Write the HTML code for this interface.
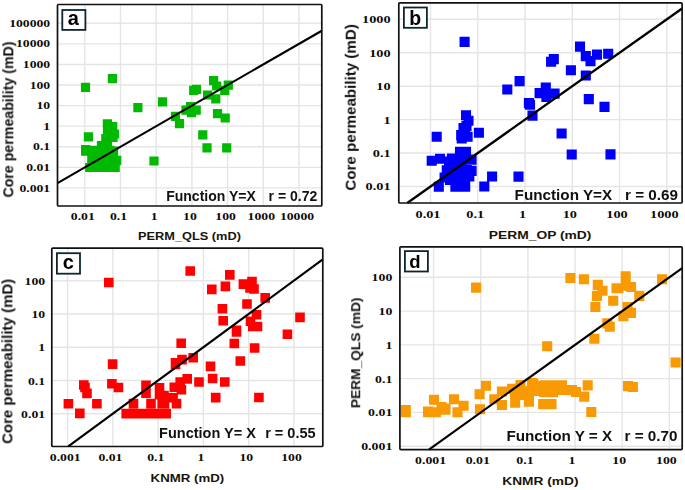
<!DOCTYPE html>
<html><head><meta charset="utf-8"><style>html,body{margin:0;padding:0;background:#fff;overflow:hidden}svg{display:block}</style></head>
<body><svg width="685" height="490" viewBox="0 0 685 490"><path d="M57.5 187.90H321.8M84.80 4.5V206.0M57.5 167.33H321.8M120.50 4.5V206.0M57.5 146.75H321.8M156.20 4.5V206.0M57.5 126.17H321.8M191.90 4.5V206.0M57.5 105.60H321.8M227.60 4.5V206.0M57.5 85.02H321.8M263.30 4.5V206.0M57.5 64.45H321.8M299.00 4.5V206.0M57.5 43.88H321.8M57.5 23.30H321.8" stroke="#e5e5e5" stroke-width="1.4" fill="none"/><path fill="#00b900" d="M80.90 82.70h9.2v9.2h-9.2zM107.80 74.10h9.2v9.2h-9.2zM133.30 103.10h9.2v9.2h-9.2zM157.90 97.30h9.2v9.2h-9.2zM83.80 132.30h9.2v9.2h-9.2zM198.20 130.20h9.2v9.2h-9.2zM202.40 143.20h9.2v9.2h-9.2zM222.10 143.20h9.2v9.2h-9.2zM170.90 111.80h9.2v9.2h-9.2zM174.90 119.00h9.2v9.2h-9.2zM181.40 105.50h9.2v9.2h-9.2zM185.90 102.10h9.2v9.2h-9.2zM186.90 108.00h9.2v9.2h-9.2zM191.60 105.50h9.2v9.2h-9.2zM203.00 90.40h9.2v9.2h-9.2zM211.20 94.30h9.2v9.2h-9.2zM212.90 109.10h9.2v9.2h-9.2zM220.60 113.40h9.2v9.2h-9.2zM209.00 76.10h9.2v9.2h-9.2zM212.10 81.40h9.2v9.2h-9.2zM223.70 80.60h9.2v9.2h-9.2zM220.20 85.80h9.2v9.2h-9.2zM189.10 85.70h9.2v9.2h-9.2zM191.80 84.80h9.2v9.2h-9.2zM149.40 156.40h9.2v9.2h-9.2zM102.80 119.20h9.2v9.2h-9.2zM108.10 122.10h9.2v9.2h-9.2zM102.90 128.40h9.2v9.2h-9.2zM109.90 129.40h9.2v9.2h-9.2zM103.20 124.40h9.2v9.2h-9.2zM101.20 134.10h9.2v9.2h-9.2zM108.40 132.70h9.2v9.2h-9.2zM96.90 141.10h9.2v9.2h-9.2zM102.80 141.10h9.2v9.2h-9.2zM109.00 146.50h9.2v9.2h-9.2zM81.00 145.00h9.2v9.2h-9.2zM81.00 146.60h9.2v9.2h-9.2zM87.40 145.80h9.2v9.2h-9.2zM93.40 145.80h9.2v9.2h-9.2zM99.40 145.80h9.2v9.2h-9.2zM105.40 145.80h9.2v9.2h-9.2zM87.20 154.40h9.2v9.2h-9.2zM95.40 154.40h9.2v9.2h-9.2zM103.40 154.40h9.2v9.2h-9.2zM112.10 155.80h9.2v9.2h-9.2zM85.10 162.90h9.2v9.2h-9.2zM93.40 162.90h9.2v9.2h-9.2zM101.40 162.90h9.2v9.2h-9.2zM110.60 162.90h9.2v9.2h-9.2z"/><line x1="57.50" y1="183.06" x2="321.80" y2="30.73" stroke="#000" stroke-width="2.1"/><rect x="57.5" y="4.5" width="264.30" height="201.50" rx="1" fill="none" stroke="#111" stroke-width="1.7"/><rect x="62.3" y="10.0" width="23.10" height="19.90" fill="#fff" stroke="#0e2633" stroke-width="1.8"/><text x="73.2" y="24.8" text-anchor="middle" font-family="'Liberation Sans', sans-serif" font-weight="bold" font-size="20" fill="#000" style="filter:blur(0)">a</text><text transform="translate(50.20,26.90) scale(1.33,1)" text-anchor="end" font-family="'Liberation Serif', serif" font-weight="bold" font-size="10.3" fill="#0c0905">100000</text><text transform="translate(50.20,47.48) scale(1.33,1)" text-anchor="end" font-family="'Liberation Serif', serif" font-weight="bold" font-size="10.3" fill="#0c0905">10000</text><text transform="translate(50.20,68.05) scale(1.33,1)" text-anchor="end" font-family="'Liberation Serif', serif" font-weight="bold" font-size="10.3" fill="#0c0905">1000</text><text transform="translate(50.20,88.62) scale(1.33,1)" text-anchor="end" font-family="'Liberation Serif', serif" font-weight="bold" font-size="10.3" fill="#0c0905">100</text><text transform="translate(50.20,109.20) scale(1.33,1)" text-anchor="end" font-family="'Liberation Serif', serif" font-weight="bold" font-size="10.3" fill="#0c0905">10</text><text transform="translate(50.20,129.78) scale(1.33,1)" text-anchor="end" font-family="'Liberation Serif', serif" font-weight="bold" font-size="10.3" fill="#0c0905">1</text><text transform="translate(50.20,150.35) scale(1.33,1)" text-anchor="end" font-family="'Liberation Serif', serif" font-weight="bold" font-size="10.3" fill="#0c0905">0.1</text><text transform="translate(50.20,170.93) scale(1.33,1)" text-anchor="end" font-family="'Liberation Serif', serif" font-weight="bold" font-size="10.3" fill="#0c0905">0.01</text><text transform="translate(50.20,191.50) scale(1.33,1)" text-anchor="end" font-family="'Liberation Serif', serif" font-weight="bold" font-size="10.3" fill="#0c0905">0.001</text><text transform="translate(82.80,219.80) scale(1.33,1)" text-anchor="middle" font-family="'Liberation Serif', serif" font-weight="bold" font-size="10.3" fill="#0c0905">0.01</text><text transform="translate(118.50,219.80) scale(1.33,1)" text-anchor="middle" font-family="'Liberation Serif', serif" font-weight="bold" font-size="10.3" fill="#0c0905">0.1</text><text transform="translate(154.20,219.80) scale(1.33,1)" text-anchor="middle" font-family="'Liberation Serif', serif" font-weight="bold" font-size="10.3" fill="#0c0905">1</text><text transform="translate(189.90,219.80) scale(1.33,1)" text-anchor="middle" font-family="'Liberation Serif', serif" font-weight="bold" font-size="10.3" fill="#0c0905">10</text><text transform="translate(225.60,219.80) scale(1.33,1)" text-anchor="middle" font-family="'Liberation Serif', serif" font-weight="bold" font-size="10.3" fill="#0c0905">100</text><text transform="translate(261.30,219.80) scale(1.33,1)" text-anchor="middle" font-family="'Liberation Serif', serif" font-weight="bold" font-size="10.3" fill="#0c0905">1000</text><text transform="translate(297.00,219.80) scale(1.33,1)" text-anchor="middle" font-family="'Liberation Serif', serif" font-weight="bold" font-size="10.3" fill="#0c0905">10000</text><path d="M430.50 2.8V203.0M398.8 186.50H682.1M477.76 2.8V203.0M398.8 153.06H682.1M525.02 2.8V203.0M398.8 119.62H682.1M572.28 2.8V203.0M398.8 86.18H682.1M619.54 2.8V203.0M398.8 52.74H682.1M666.80 2.8V203.0M398.8 19.30H682.1" stroke="#e5e5e5" stroke-width="1.4" fill="none"/><path fill="#0000fa" d="M459.55 36.85h10.1v10.1h-10.1zM502.25 84.45h10.1v10.1h-10.1zM514.55 76.05h10.1v10.1h-10.1zM523.85 98.05h10.1v10.1h-10.1zM524.95 99.75h10.1v10.1h-10.1zM527.45 110.55h10.1v10.1h-10.1zM534.55 88.05h10.1v10.1h-10.1zM540.75 82.45h10.1v10.1h-10.1zM541.35 91.95h10.1v10.1h-10.1zM549.55 88.55h10.1v10.1h-10.1zM583.75 94.05h10.1v10.1h-10.1zM599.45 101.85h10.1v10.1h-10.1zM605.45 149.35h10.1v10.1h-10.1zM566.65 149.45h10.1v10.1h-10.1zM556.55 128.45h10.1v10.1h-10.1zM548.75 54.05h10.1v10.1h-10.1zM546.05 56.75h10.1v10.1h-10.1zM574.95 41.55h10.1v10.1h-10.1zM580.75 51.05h10.1v10.1h-10.1zM585.45 56.05h10.1v10.1h-10.1zM591.95 49.55h10.1v10.1h-10.1zM603.15 48.75h10.1v10.1h-10.1zM565.85 65.15h10.1v10.1h-10.1zM580.75 70.45h10.1v10.1h-10.1zM487.05 171.45h10.1v10.1h-10.1zM513.45 171.55h10.1v10.1h-10.1zM479.25 181.45h10.1v10.1h-10.1zM473.85 127.75h10.1v10.1h-10.1zM431.65 131.65h10.1v10.1h-10.1zM460.95 110.25h10.1v10.1h-10.1zM463.45 115.65h10.1v10.1h-10.1zM460.05 125.95h10.1v10.1h-10.1zM456.15 130.05h10.1v10.1h-10.1zM456.65 133.35h10.1v10.1h-10.1zM462.55 131.75h10.1v10.1h-10.1zM454.95 146.65h10.1v10.1h-10.1zM460.95 146.65h10.1v10.1h-10.1zM426.65 155.65h10.1v10.1h-10.1zM434.95 153.65h10.1v10.1h-10.1zM446.85 153.45h10.1v10.1h-10.1zM456.85 153.45h10.1v10.1h-10.1zM466.55 154.55h10.1v10.1h-10.1zM441.75 165.15h10.1v10.1h-10.1zM451.75 164.95h10.1v10.1h-10.1zM461.75 164.95h10.1v10.1h-10.1zM466.55 165.85h10.1v10.1h-10.1zM439.55 172.45h10.1v10.1h-10.1zM449.55 171.95h10.1v10.1h-10.1zM459.55 171.95h10.1v10.1h-10.1zM464.25 171.45h10.1v10.1h-10.1zM433.75 181.75h10.1v10.1h-10.1zM450.35 181.55h10.1v10.1h-10.1zM460.15 181.55h10.1v10.1h-10.1zM443.95 156.45h10.1v10.1h-10.1zM446.95 160.95h10.1v10.1h-10.1zM456.95 159.95h10.1v10.1h-10.1zM444.95 174.95h10.1v10.1h-10.1zM454.95 174.95h10.1v10.1h-10.1zM449.95 167.95h10.1v10.1h-10.1zM461.45 120.95h10.1v10.1h-10.1zM458.45 122.95h10.1v10.1h-10.1z"/><line x1="407.23" y1="202.97" x2="682.10" y2="8.47" stroke="#000" stroke-width="2.3"/><rect x="398.8" y="2.8" width="283.30" height="200.20" rx="1" fill="none" stroke="#111" stroke-width="1.7"/><rect x="403.9" y="7.5" width="23.00" height="20.30" fill="#fff" stroke="#0e2633" stroke-width="1.8"/><text x="415.3" y="25" text-anchor="middle" font-family="'Liberation Sans', sans-serif" font-weight="bold" font-size="19.5" fill="#000" style="filter:blur(0)">b</text><text transform="translate(390.60,23.20) scale(1.3,1)" text-anchor="end" font-family="'Liberation Serif', serif" font-weight="bold" font-size="11" fill="#0c0905">1000</text><text transform="translate(390.60,56.64) scale(1.3,1)" text-anchor="end" font-family="'Liberation Serif', serif" font-weight="bold" font-size="11" fill="#0c0905">100</text><text transform="translate(390.60,90.08) scale(1.3,1)" text-anchor="end" font-family="'Liberation Serif', serif" font-weight="bold" font-size="11" fill="#0c0905">10</text><text transform="translate(390.60,123.52) scale(1.3,1)" text-anchor="end" font-family="'Liberation Serif', serif" font-weight="bold" font-size="11" fill="#0c0905">1</text><text transform="translate(390.60,156.96) scale(1.3,1)" text-anchor="end" font-family="'Liberation Serif', serif" font-weight="bold" font-size="11" fill="#0c0905">0.1</text><text transform="translate(390.60,190.40) scale(1.3,1)" text-anchor="end" font-family="'Liberation Serif', serif" font-weight="bold" font-size="11" fill="#0c0905">0.01</text><text transform="translate(428.00,217.90) scale(1.3,1)" text-anchor="middle" font-family="'Liberation Serif', serif" font-weight="bold" font-size="11" fill="#0c0905">0.01</text><text transform="translate(475.26,217.90) scale(1.3,1)" text-anchor="middle" font-family="'Liberation Serif', serif" font-weight="bold" font-size="11" fill="#0c0905">0.1</text><text transform="translate(522.52,217.90) scale(1.3,1)" text-anchor="middle" font-family="'Liberation Serif', serif" font-weight="bold" font-size="11" fill="#0c0905">1</text><text transform="translate(569.78,217.90) scale(1.3,1)" text-anchor="middle" font-family="'Liberation Serif', serif" font-weight="bold" font-size="11" fill="#0c0905">10</text><text transform="translate(617.04,217.90) scale(1.3,1)" text-anchor="middle" font-family="'Liberation Serif', serif" font-weight="bold" font-size="11" fill="#0c0905">100</text><text transform="translate(664.30,217.90) scale(1.3,1)" text-anchor="middle" font-family="'Liberation Serif', serif" font-weight="bold" font-size="11" fill="#0c0905">1000</text><path d="M67.60 248.1V446.5M112.86 248.1V446.5M51.8 413.70H322.8M158.12 248.1V446.5M51.8 380.45H322.8M203.38 248.1V446.5M51.8 347.20H322.8M248.64 248.1V446.5M51.8 313.95H322.8M293.90 248.1V446.5M51.8 280.70H322.8" stroke="#e5e5e5" stroke-width="1.4" fill="none"/><path fill="#ff0000" d="M104.00 277.70h9.6v9.6h-9.6zM107.80 359.30h9.6v9.6h-9.6zM107.10 378.90h9.6v9.6h-9.6zM113.60 382.70h9.6v9.6h-9.6zM79.00 380.20h9.6v9.6h-9.6zM80.20 382.70h9.6v9.6h-9.6zM82.20 388.60h9.6v9.6h-9.6zM63.60 398.90h9.6v9.6h-9.6zM92.10 398.90h9.6v9.6h-9.6zM75.00 408.60h9.6v9.6h-9.6zM121.40 408.80h9.6v9.6h-9.6zM129.20 408.80h9.6v9.6h-9.6zM137.20 408.80h9.6v9.6h-9.6zM145.20 408.80h9.6v9.6h-9.6zM153.20 408.80h9.6v9.6h-9.6zM161.40 408.80h9.6v9.6h-9.6zM128.70 398.80h9.6v9.6h-9.6zM146.20 398.80h9.6v9.6h-9.6zM157.40 398.80h9.6v9.6h-9.6zM159.70 398.80h9.6v9.6h-9.6zM171.70 398.80h9.6v9.6h-9.6zM141.20 380.40h9.6v9.6h-9.6zM141.20 388.30h9.6v9.6h-9.6zM154.70 383.00h9.6v9.6h-9.6zM154.70 389.80h9.6v9.6h-9.6zM159.20 390.70h9.6v9.6h-9.6zM168.30 393.00h9.6v9.6h-9.6zM169.50 382.50h9.6v9.6h-9.6zM176.60 384.90h9.6v9.6h-9.6zM175.40 377.30h9.6v9.6h-9.6zM182.40 374.10h9.6v9.6h-9.6zM194.20 377.20h9.6v9.6h-9.6zM207.80 373.70h9.6v9.6h-9.6zM220.00 377.20h9.6v9.6h-9.6zM210.90 392.80h9.6v9.6h-9.6zM176.40 338.50h9.6v9.6h-9.6zM177.20 354.80h9.6v9.6h-9.6zM170.70 357.90h9.6v9.6h-9.6zM170.70 359.60h9.6v9.6h-9.6zM188.40 353.00h9.6v9.6h-9.6zM205.70 361.60h9.6v9.6h-9.6zM185.40 266.20h9.6v9.6h-9.6zM225.00 270.10h9.6v9.6h-9.6zM207.00 284.60h9.6v9.6h-9.6zM220.60 281.60h9.6v9.6h-9.6zM238.60 279.30h9.6v9.6h-9.6zM247.20 276.80h9.6v9.6h-9.6zM245.20 283.20h9.6v9.6h-9.6zM249.20 284.20h9.6v9.6h-9.6zM260.40 293.10h9.6v9.6h-9.6zM242.20 299.20h9.6v9.6h-9.6zM217.60 304.00h9.6v9.6h-9.6zM218.40 316.00h9.6v9.6h-9.6zM251.70 310.00h9.6v9.6h-9.6zM245.70 316.40h9.6v9.6h-9.6zM248.00 321.70h9.6v9.6h-9.6zM252.70 321.70h9.6v9.6h-9.6zM231.70 325.60h9.6v9.6h-9.6zM231.70 327.20h9.6v9.6h-9.6zM295.20 312.60h9.6v9.6h-9.6zM282.60 329.40h9.6v9.6h-9.6zM229.50 338.70h9.6v9.6h-9.6zM249.80 343.20h9.6v9.6h-9.6zM235.50 356.20h9.6v9.6h-9.6zM254.10 392.70h9.6v9.6h-9.6z"/><line x1="68.27" y1="446.46" x2="322.80" y2="259.47" stroke="#000" stroke-width="2.15"/><rect x="51.8" y="248.1" width="271.00" height="198.40" rx="1" fill="none" stroke="#111" stroke-width="1.7"/><rect x="56.9" y="253.2" width="23.10" height="20.50" fill="#fff" stroke="#0e2633" stroke-width="1.8"/><text x="68.2" y="269.3" text-anchor="middle" font-family="'Liberation Sans', sans-serif" font-weight="bold" font-size="20" fill="#000" style="filter:blur(0)">c</text><text transform="translate(45.10,284.80) scale(1.26,1)" text-anchor="end" font-family="'Liberation Serif', serif" font-weight="bold" font-size="10.9" fill="#0c0905">100</text><text transform="translate(45.10,318.05) scale(1.26,1)" text-anchor="end" font-family="'Liberation Serif', serif" font-weight="bold" font-size="10.9" fill="#0c0905">10</text><text transform="translate(45.10,351.30) scale(1.26,1)" text-anchor="end" font-family="'Liberation Serif', serif" font-weight="bold" font-size="10.9" fill="#0c0905">1</text><text transform="translate(45.10,384.55) scale(1.26,1)" text-anchor="end" font-family="'Liberation Serif', serif" font-weight="bold" font-size="10.9" fill="#0c0905">0.1</text><text transform="translate(45.10,417.80) scale(1.26,1)" text-anchor="end" font-family="'Liberation Serif', serif" font-weight="bold" font-size="10.9" fill="#0c0905">0.01</text><text transform="translate(65.20,460.80) scale(1.26,1)" text-anchor="middle" font-family="'Liberation Serif', serif" font-weight="bold" font-size="10.9" fill="#0c0905">0.001</text><text transform="translate(110.46,460.80) scale(1.26,1)" text-anchor="middle" font-family="'Liberation Serif', serif" font-weight="bold" font-size="10.9" fill="#0c0905">0.01</text><text transform="translate(155.72,460.80) scale(1.26,1)" text-anchor="middle" font-family="'Liberation Serif', serif" font-weight="bold" font-size="10.9" fill="#0c0905">0.1</text><text transform="translate(200.98,460.80) scale(1.26,1)" text-anchor="middle" font-family="'Liberation Serif', serif" font-weight="bold" font-size="10.9" fill="#0c0905">1</text><text transform="translate(246.24,460.80) scale(1.26,1)" text-anchor="middle" font-family="'Liberation Serif', serif" font-weight="bold" font-size="10.9" fill="#0c0905">10</text><text transform="translate(291.50,460.80) scale(1.26,1)" text-anchor="middle" font-family="'Liberation Serif', serif" font-weight="bold" font-size="10.9" fill="#0c0905">100</text><path d="M433.60 246.8V449.6M399.9 446.20H682.2M480.75 246.8V449.6M399.9 412.42H682.2M527.90 246.8V449.6M399.9 378.64H682.2M575.05 246.8V449.6M399.9 344.86H682.2M622.20 246.8V449.6M399.9 311.08H682.2M669.35 246.8V449.6M399.9 277.30H682.2" stroke="#e5e5e5" stroke-width="1.4" fill="none"/><path fill="#f79a04" d="M400.75 404.95h10.1v10.1h-10.1zM400.75 407.15h10.1v10.1h-10.1zM422.95 406.45h10.1v10.1h-10.1zM422.95 407.15h10.1v10.1h-10.1zM428.95 394.75h10.1v10.1h-10.1zM430.95 407.15h10.1v10.1h-10.1zM440.45 403.45h10.1v10.1h-10.1zM440.45 404.55h10.1v10.1h-10.1zM448.95 394.25h10.1v10.1h-10.1zM452.45 407.15h10.1v10.1h-10.1zM458.55 400.65h10.1v10.1h-10.1zM436.45 401.95h10.1v10.1h-10.1zM474.55 389.15h10.1v10.1h-10.1zM480.95 380.65h10.1v10.1h-10.1zM474.95 404.15h10.1v10.1h-10.1zM489.25 394.15h10.1v10.1h-10.1zM496.85 386.45h10.1v10.1h-10.1zM496.85 399.95h10.1v10.1h-10.1zM506.95 383.65h10.1v10.1h-10.1zM508.45 383.65h10.1v10.1h-10.1zM510.15 397.55h10.1v10.1h-10.1zM523.95 391.95h10.1v10.1h-10.1zM523.95 396.65h10.1v10.1h-10.1zM526.95 377.95h10.1v10.1h-10.1zM519.25 386.95h10.1v10.1h-10.1zM519.25 389.95h10.1v10.1h-10.1zM528.45 378.95h10.1v10.1h-10.1zM539.95 380.35h10.1v10.1h-10.1zM549.95 380.35h10.1v10.1h-10.1zM556.95 380.35h10.1v10.1h-10.1zM566.95 385.05h10.1v10.1h-10.1zM538.95 387.15h10.1v10.1h-10.1zM547.95 387.15h10.1v10.1h-10.1zM557.95 384.95h10.1v10.1h-10.1zM566.95 384.95h10.1v10.1h-10.1zM579.15 391.55h10.1v10.1h-10.1zM582.65 380.35h10.1v10.1h-10.1zM538.15 399.05h10.1v10.1h-10.1zM546.45 399.05h10.1v10.1h-10.1zM586.25 406.95h10.1v10.1h-10.1zM509.95 387.95h10.1v10.1h-10.1zM533.45 385.95h10.1v10.1h-10.1zM515.45 379.95h10.1v10.1h-10.1zM531.45 380.95h10.1v10.1h-10.1zM570.95 386.95h10.1v10.1h-10.1zM525.95 385.95h10.1v10.1h-10.1zM565.35 272.95h10.1v10.1h-10.1zM578.85 274.25h10.1v10.1h-10.1zM592.75 279.85h10.1v10.1h-10.1zM597.45 285.75h10.1v10.1h-10.1zM591.85 290.85h10.1v10.1h-10.1zM590.35 301.95h10.1v10.1h-10.1zM608.15 295.75h10.1v10.1h-10.1zM620.65 271.35h10.1v10.1h-10.1zM611.45 283.15h10.1v10.1h-10.1zM613.35 283.15h10.1v10.1h-10.1zM620.65 280.65h10.1v10.1h-10.1zM625.95 281.95h10.1v10.1h-10.1zM634.25 290.85h10.1v10.1h-10.1zM657.05 274.25h10.1v10.1h-10.1zM622.45 301.95h10.1v10.1h-10.1zM625.95 307.85h10.1v10.1h-10.1zM618.35 311.25h10.1v10.1h-10.1zM602.25 318.35h10.1v10.1h-10.1zM604.75 321.75h10.1v10.1h-10.1zM589.35 333.75h10.1v10.1h-10.1zM471.05 282.55h10.1v10.1h-10.1zM542.15 341.25h10.1v10.1h-10.1zM670.55 357.45h10.1v10.1h-10.1zM623.05 381.05h10.1v10.1h-10.1zM627.85 381.95h10.1v10.1h-10.1z"/><line x1="428.91" y1="449.56" x2="682.20" y2="268.09" stroke="#000" stroke-width="2.15"/><rect x="399.9" y="246.8" width="282.30" height="202.80" rx="1" fill="none" stroke="#111" stroke-width="1.7"/><rect x="404.9" y="251.1" width="23.00" height="20.40" fill="#fff" stroke="#0e2633" stroke-width="1.8"/><text x="415" y="268.1" text-anchor="middle" font-family="'Liberation Sans', sans-serif" font-weight="bold" font-size="18.5" fill="#000" style="filter:blur(0)">d</text><text transform="translate(392.30,281.30) scale(1.27,1)" text-anchor="end" font-family="'Liberation Serif', serif" font-weight="bold" font-size="10.9" fill="#0c0905">100</text><text transform="translate(392.30,315.08) scale(1.27,1)" text-anchor="end" font-family="'Liberation Serif', serif" font-weight="bold" font-size="10.9" fill="#0c0905">10</text><text transform="translate(392.30,348.86) scale(1.27,1)" text-anchor="end" font-family="'Liberation Serif', serif" font-weight="bold" font-size="10.9" fill="#0c0905">1</text><text transform="translate(392.30,382.64) scale(1.27,1)" text-anchor="end" font-family="'Liberation Serif', serif" font-weight="bold" font-size="10.9" fill="#0c0905">0.1</text><text transform="translate(392.30,416.42) scale(1.27,1)" text-anchor="end" font-family="'Liberation Serif', serif" font-weight="bold" font-size="10.9" fill="#0c0905">0.01</text><text transform="translate(392.30,450.20) scale(1.27,1)" text-anchor="end" font-family="'Liberation Serif', serif" font-weight="bold" font-size="10.9" fill="#0c0905">0.001</text><text transform="translate(430.60,464.40) scale(1.27,1)" text-anchor="middle" font-family="'Liberation Serif', serif" font-weight="bold" font-size="10.9" fill="#0c0905">0.001</text><text transform="translate(477.75,464.40) scale(1.27,1)" text-anchor="middle" font-family="'Liberation Serif', serif" font-weight="bold" font-size="10.9" fill="#0c0905">0.01</text><text transform="translate(524.90,464.40) scale(1.27,1)" text-anchor="middle" font-family="'Liberation Serif', serif" font-weight="bold" font-size="10.9" fill="#0c0905">0.1</text><text transform="translate(572.05,464.40) scale(1.27,1)" text-anchor="middle" font-family="'Liberation Serif', serif" font-weight="bold" font-size="10.9" fill="#0c0905">1</text><text transform="translate(619.20,464.40) scale(1.27,1)" text-anchor="middle" font-family="'Liberation Serif', serif" font-weight="bold" font-size="10.9" fill="#0c0905">10</text><text transform="translate(666.35,464.40) scale(1.27,1)" text-anchor="middle" font-family="'Liberation Serif', serif" font-weight="bold" font-size="10.9" fill="#0c0905">100</text><text x="166.2" y="201.2" text-anchor="start" font-family="'Liberation Sans', sans-serif" font-weight="bold" font-size="14" fill="#111" style="filter:blur(0)">Function Y=X</text><text x="268.6" y="201.2" text-anchor="start" font-family="'Liberation Sans', sans-serif" font-weight="bold" font-size="14" fill="#111" style="filter:blur(0)">r = 0.72</text><text x="138.0" y="239.9" text-anchor="start" font-family="'Liberation Sans', sans-serif" font-weight="bold" font-size="11" fill="#1a1408" textLength="102.9" lengthAdjust="spacingAndGlyphs">PERM_QLS (mD)</text><text x="12.9" y="197.6" text-anchor="start" font-family="'Liberation Sans', sans-serif" font-weight="bold" font-size="14.1" fill="#111" textLength="156.2" lengthAdjust="spacingAndGlyphs" style="filter:blur(0)" transform="rotate(-90 12.9 197.6)">Core permeability (mD)</text><text x="514.6" y="200.3" text-anchor="start" font-family="'Liberation Sans', sans-serif" font-weight="bold" font-size="15.25" fill="#111" style="filter:blur(0)">Function Y=X</text><text x="625.0" y="200.3" text-anchor="start" font-family="'Liberation Sans', sans-serif" font-weight="bold" font-size="15.25" fill="#111" style="filter:blur(0)">r = 0.69</text><text x="488.8" y="238.9" text-anchor="start" font-family="'Liberation Sans', sans-serif" font-weight="bold" font-size="11" fill="#1a1408" textLength="102.6" lengthAdjust="spacingAndGlyphs">PERM_OP (mD)</text><text x="355.3" y="190.6" text-anchor="start" font-family="'Liberation Sans', sans-serif" font-weight="bold" font-size="15" fill="#111" textLength="166.5" lengthAdjust="spacingAndGlyphs" style="filter:blur(0)" transform="rotate(-90 355.3 190.6)">Core permeability (mD)</text><text x="159.1" y="438.4" text-anchor="start" font-family="'Liberation Sans', sans-serif" font-weight="bold" font-size="14.5" fill="#111" style="filter:blur(0)">Function Y= X</text><text x="265.2" y="438.4" text-anchor="start" font-family="'Liberation Sans', sans-serif" font-weight="bold" font-size="14.5" fill="#111" style="filter:blur(0)">r = 0.55</text><text x="150.6" y="481.8" text-anchor="start" font-family="'Liberation Sans', sans-serif" font-weight="bold" font-size="11" fill="#1a1408" textLength="73.6" lengthAdjust="spacingAndGlyphs">KNMR (mD)</text><text x="12.4" y="444.0" text-anchor="start" font-family="'Liberation Sans', sans-serif" font-weight="bold" font-size="14.9" fill="#111" textLength="165.2" lengthAdjust="spacingAndGlyphs" style="filter:blur(0)" transform="rotate(-90 12.4 444.0)">Core permeability (mD)</text><text x="506.4" y="441.4" text-anchor="start" font-family="'Liberation Sans', sans-serif" font-weight="bold" font-size="15.25" fill="#111" style="filter:blur(0)">Function Y = X</text><text x="624.5" y="441.4" text-anchor="start" font-family="'Liberation Sans', sans-serif" font-weight="bold" font-size="15.25" fill="#111" style="filter:blur(0)">r = 0.70</text><text x="502.3" y="485.4" text-anchor="start" font-family="'Liberation Sans', sans-serif" font-weight="bold" font-size="10.6" fill="#1a1408" textLength="76.2" lengthAdjust="spacingAndGlyphs">KNMR (mD)</text><text x="360.3" y="408.1" text-anchor="start" font-family="'Liberation Sans', sans-serif" font-weight="bold" font-size="12" fill="#111" textLength="110.6" lengthAdjust="spacingAndGlyphs" style="filter:blur(0)" transform="rotate(-90 360.3 408.1)">PERM_QLS (mD)</text></svg></body></html>
